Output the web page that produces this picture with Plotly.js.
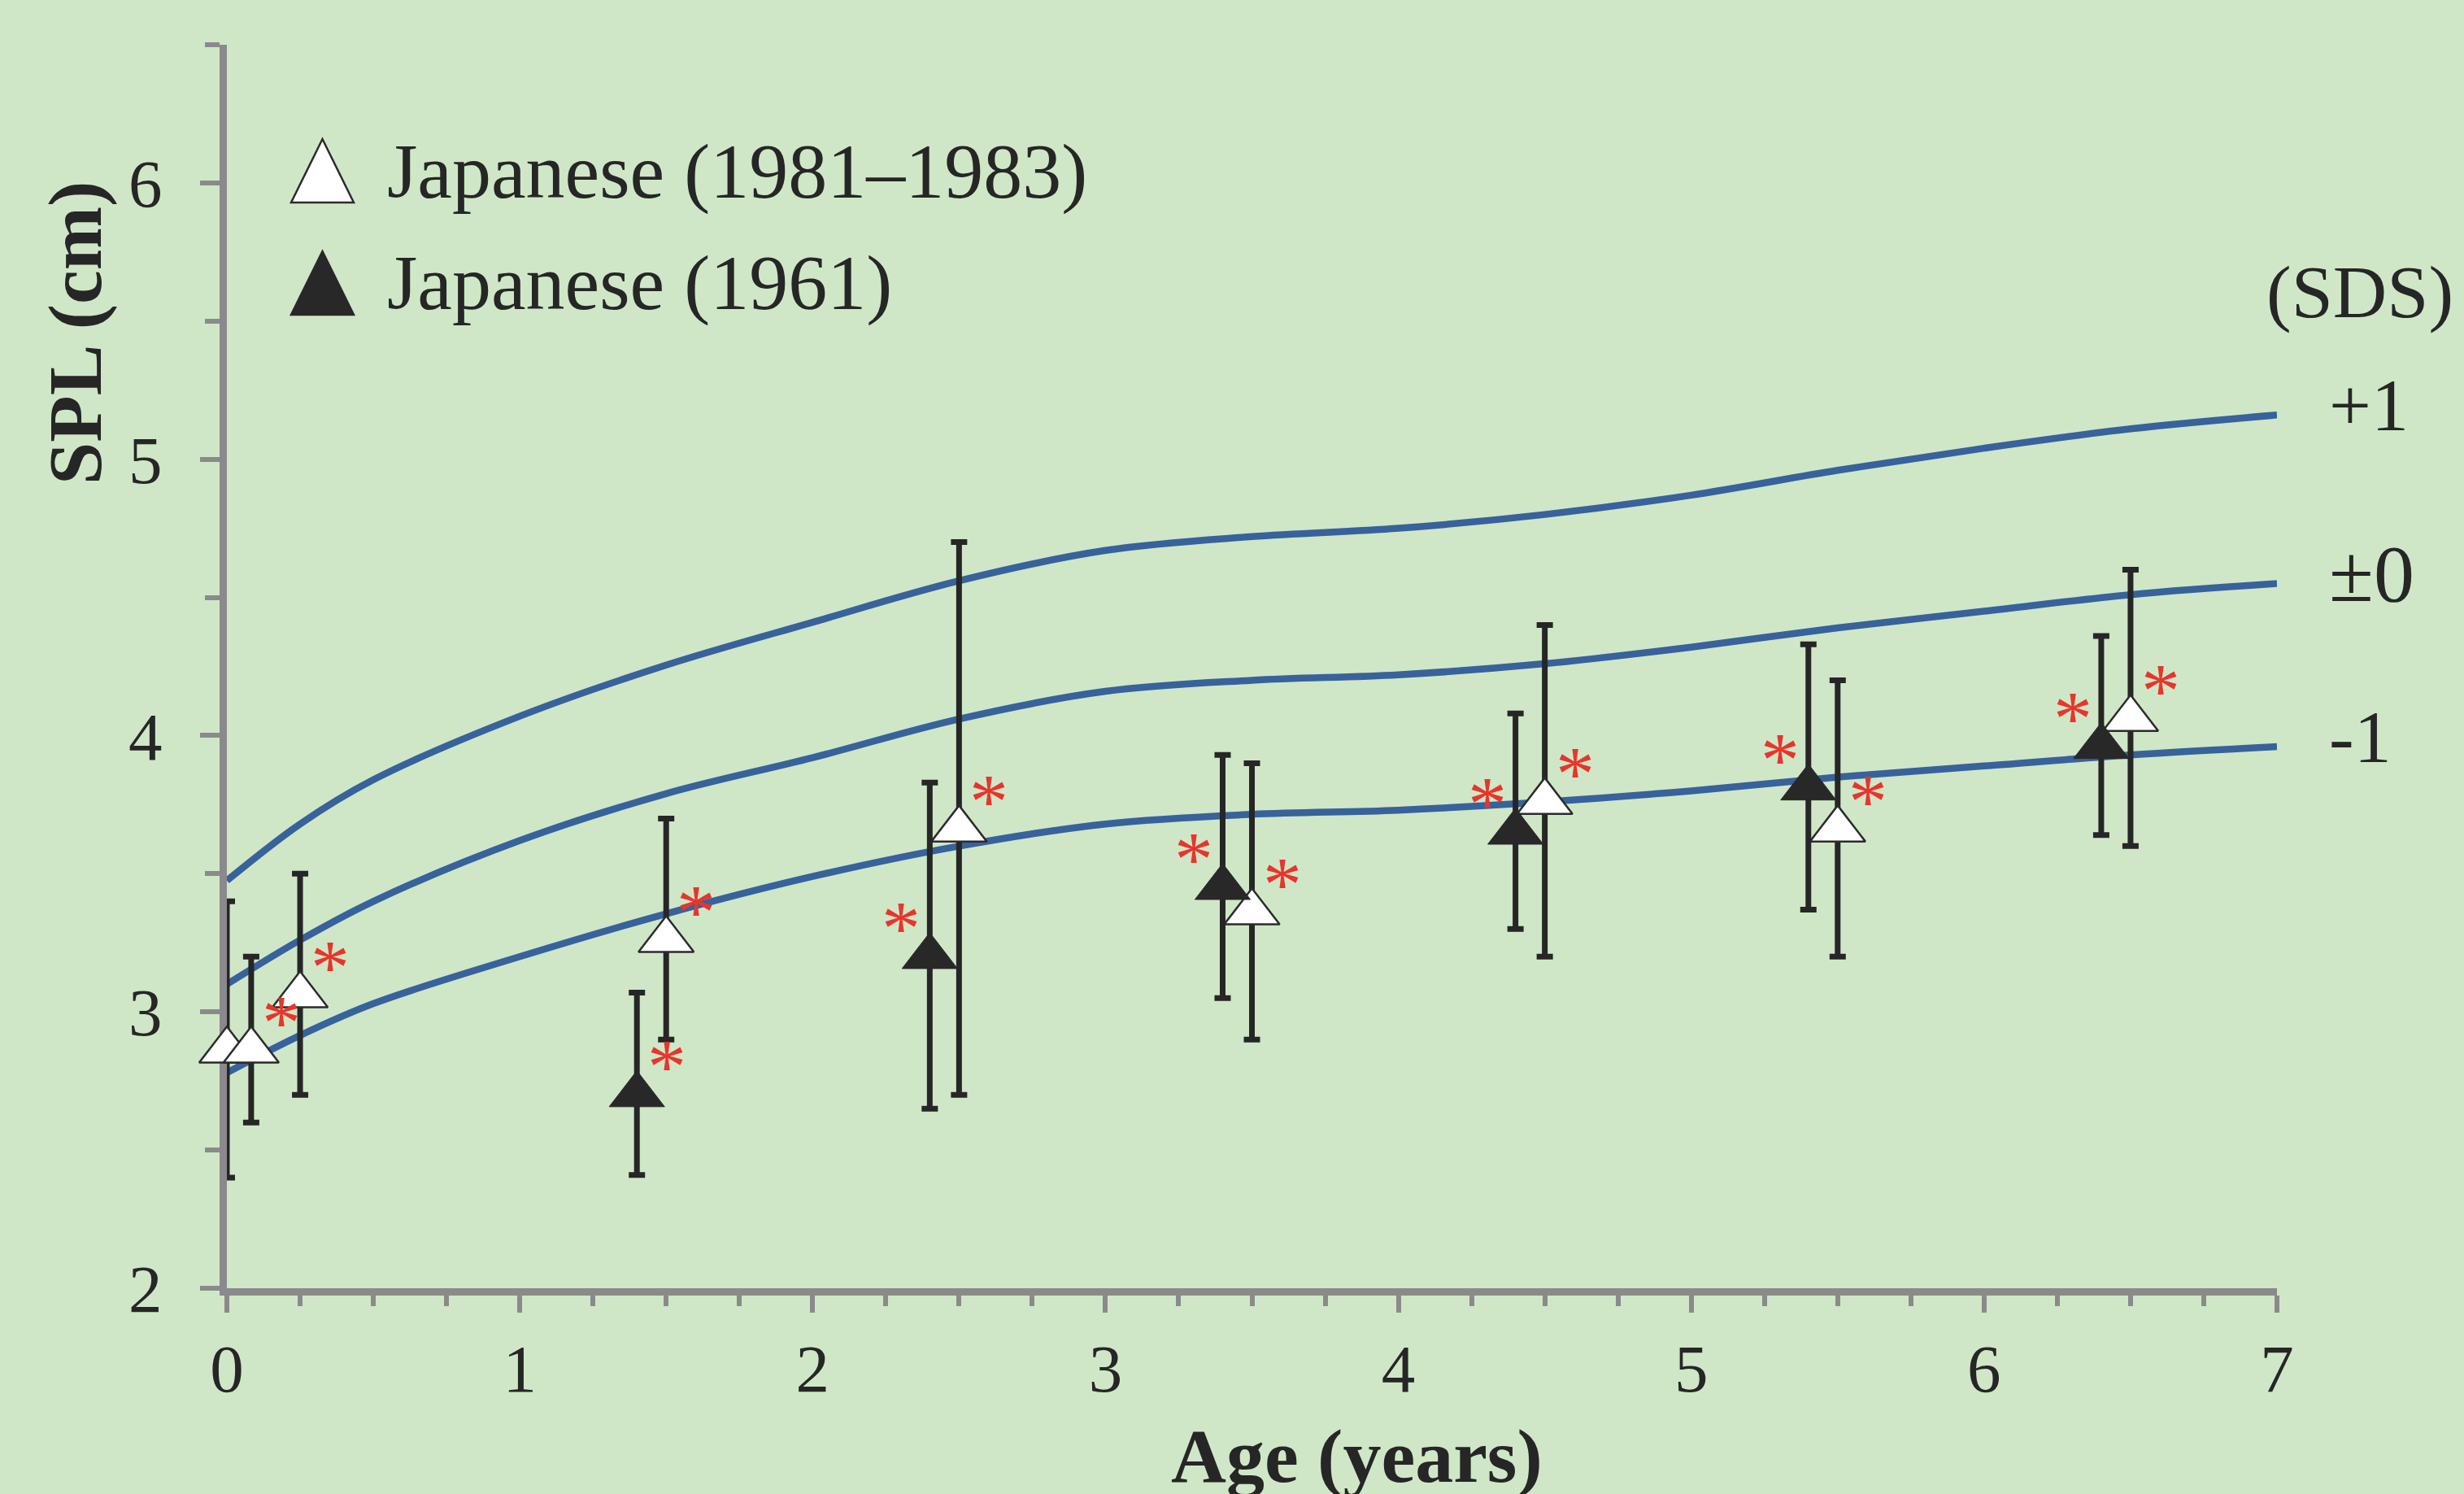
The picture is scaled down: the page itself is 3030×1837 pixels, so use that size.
<!DOCTYPE html>
<html>
<head>
<meta charset="utf-8">
<script src="https://cdn.plot.ly/plotly-3.0.1.min.js"></script>
<style>
  html, body { margin: 0; padding: 0; background: #cfe7c7; overflow: hidden; }
  #chart { width: 3030px; height: 1837px; }
</style>
</head>
<body>
<div id="chart"></div>
<script>
// ---- data ----
const ageCurve  = [0, 0.25, 0.5, 1, 1.5, 2, 2.5, 3, 3.5, 4, 4.5, 5, 5.5, 6, 6.5, 7];
const sdsPlus1  = [3.475, 3.68, 3.84, 4.07, 4.255, 4.41, 4.56, 4.67, 4.72, 4.75, 4.80, 4.87, 4.96, 5.04, 5.11, 5.16];
const sdsZero   = [3.10, 3.26, 3.40, 3.62, 3.79, 3.92, 4.06, 4.16, 4.20, 4.22, 4.26, 4.32, 4.39, 4.45, 4.51, 4.55];
const sdsMinus1 = [2.78, 2.915, 3.03, 3.20, 3.355, 3.49, 3.60, 3.68, 3.715, 3.73, 3.76, 3.80, 3.85, 3.89, 3.93, 3.96];
const sdsLabels = ['+1', '\u00b10', '-1'];

const ageOpen = [0, 0.083, 0.25, 1.5, 2.5, 3.5, 4.5, 5.5, 6.5];
const splOpen = [2.9, 2.9, 3.1, 3.3, 3.7, 3.4, 3.8, 3.7, 4.1];
const sdOpen  = [0.5, 0.3, 0.4, 0.4, 1.0, 0.5, 0.6, 0.5, 0.5];
const sigOpen = ['', 'R', 'R', 'R', 'R', 'R', 'R', 'R', 'R'];

const ageFilled = [1.4, 2.4, 3.4, 4.4, 5.4, 6.4];
const splFilled = [2.74, 3.24, 3.49, 3.69, 3.85, 4.00];
const sdFilled  = [0.33, 0.59, 0.44, 0.39, 0.48, 0.36];
const sigFilled = ['R', 'L', 'L', 'L', 'L', 'L'];

const legendLabels = ['Japanese (1981\u20131983)', 'Japanese (1961)'];
const xTitle = 'Age (years)';
const yTitle = 'SPL (cm)';
const sdsHeader = '(SDS)';

// ---- layout helpers ----
const W = 3030, H = 1837;
const M = { l: 279, r: 230, t: 55, b: 253 };
const px2x = px => (px - M.l) / (W - M.l - M.r);
const py2y = py => (H - M.b - py) / (H - M.t - M.b);

const FONT = 'Liberation Serif, Times New Roman, serif';
const INK = '#262626';
const AXIS = '#8a8a8c';
const BLUE = '#38629b';
const RED = '#e8352c';
const BG = '#cfe7c7';

const curveStyle = { color: BLUE, width: 8.5, shape: 'spline', smoothing: 1 };

const traces = [
  { x: ageCurve, y: sdsPlus1, mode: 'lines', line: curveStyle, showlegend: false, hoverinfo: 'skip' },
  { x: ageCurve, y: sdsZero, mode: 'lines', line: curveStyle, showlegend: false, hoverinfo: 'skip' },
  { x: ageCurve, y: sdsMinus1, mode: 'lines', line: curveStyle, showlegend: false, hoverinfo: 'skip' },
  {
    x: ageOpen, y: splOpen, mode: 'markers', name: legendLabels[0], showlegend: false,
    cliponaxis: false,
    marker: { symbol: 'triangle-up', size: 59, standoff: 13.5, color: '#ffffff', line: { color: '#2b2b2b', width: 2.5 } },
    error_y: { type: 'data', array: sdOpen, visible: true, color: INK, thickness: 7, width: 10 }
  },
  {
    x: ageFilled, y: splFilled, mode: 'markers', name: legendLabels[1], showlegend: false,
    cliponaxis: false,
    marker: { symbol: 'triangle-up', size: 59, standoff: 13.5, color: '#282828', line: { color: '#282828', width: 1 } },
    error_y: { type: 'data', array: sdFilled, visible: true, color: INK, thickness: 7, width: 10 }
  }
];

const annotations = [];
// significance asterisks, placed beside each marked point
function addStars(xs, ys, sig) {
  xs.forEach((x, i) => {
    if (!sig[i]) return;
    annotations.push({
      x: x, y: ys[i], xref: 'x', yref: 'y', text: '*', showarrow: false,
      xanchor: 'center', yanchor: 'middle',
      xshift: sig[i] === 'R' ? 37 : -35, yshift: 21,
      font: { family: FONT, size: 96, color: RED }
    });
  });
}
addStars(ageOpen, splOpen, sigOpen);
addStars(ageFilled, splFilled, sigFilled);

// SDS labels at the right end of each curve
[sdsPlus1, sdsZero, sdsMinus1].forEach((arr, i) => {
  annotations.push({
    x: px2x(2862), xref: 'paper', y: arr[arr.length - 1], yref: 'y', yshift: 12,
    text: sdsLabels[i], showarrow: false, xanchor: 'left', yanchor: 'middle',
    font: { family: FONT, size: i === 1 ? 100 : 92, color: INK }
  });
});
annotations.push({
  x: px2x(2902), xref: 'paper', y: py2y(359), yref: 'paper',
  text: sdsHeader, showarrow: false, xanchor: 'center', yanchor: 'middle',
  font: { family: FONT, size: 92, color: INK }
});

// axis titles (placed as in the reference)
annotations.push({
  x: px2x(92), xref: 'paper', y: py2y(410), yref: 'paper', textangle: -90,
  text: '<b>' + yTitle + '</b>', showarrow: false, xanchor: 'center', yanchor: 'middle',
  font: { family: FONT, size: 94, color: INK }
});
annotations.push({
  x: px2x(1668), xref: 'paper', y: py2y(1790), yref: 'paper',
  text: '<b>' + xTitle + '</b>', showarrow: false, xanchor: 'center', yanchor: 'middle',
  font: { family: FONT, size: 94, color: INK }
});

// legend (text + triangle symbols)
const legendRowsY = [210, 348];
const legendFill = ['#ffffff', '#282828'];
const legendLine = ['#2b2b2b', '#282828'];
const shapes = [];
legendLabels.forEach((lab, i) => {
  annotations.push({
    x: px2x(474), xref: 'paper', y: py2y(legendRowsY[i]), yref: 'paper',
    text: lab, showarrow: false, xanchor: 'left', yanchor: 'middle',
    font: { family: FONT, size: 96, color: INK }
  });
  shapes.push({
    type: 'path', xref: 'paper', yref: 'paper',
    xsizemode: 'pixel', ysizemode: 'pixel',
    xanchor: px2x(396.5), yanchor: py2y(legendRowsY[i]),
    path: 'M -38.5,-39 L 38.5,-39 L 0,39 Z',
    fillcolor: legendFill[i], line: { color: legendLine[i], width: 2.5 }
  });
});

const layout = {
  width: W, height: H,
  margin: M,
  paper_bgcolor: BG, plot_bgcolor: BG,
  font: { family: FONT, color: INK },
  showlegend: false,
  xaxis: {
    range: [0, 7], tickmode: 'linear', tick0: 0, dtick: 1,
    showgrid: false, zeroline: false,
    showline: true, linecolor: AXIS, linewidth: 9,
    ticks: 'outside', ticklen: 21, tickwidth: 6, tickcolor: AXIS,
    minor: { dtick: 0.25, ticks: 'outside', ticklen: 13, tickwidth: 6, tickcolor: AXIS, showgrid: false },
    tickfont: { family: FONT, size: 83, color: INK },
    ticklabelstandoff: -3,
    layer: 'below traces'
  },
  yaxis: {
    range: [2, 6.5], tickmode: 'linear', tick0: 2, dtick: 1,
    showgrid: false, zeroline: false,
    showline: true, linecolor: AXIS, linewidth: 9,
    ticks: 'outside', ticklen: 24, tickwidth: 6, tickcolor: AXIS,
    minor: { dtick: 0.5, ticks: 'outside', ticklen: 18, tickwidth: 6, tickcolor: AXIS, showgrid: false },
    tickfont: { family: FONT, size: 83, color: INK },
    ticklabelstandoff: 30,
    layer: 'below traces'
  },
  annotations: annotations,
  shapes: shapes
};

Plotly.newPlot('chart', traces, layout, { displayModeBar: false, staticPlot: true });
</script>
</body>
</html>
